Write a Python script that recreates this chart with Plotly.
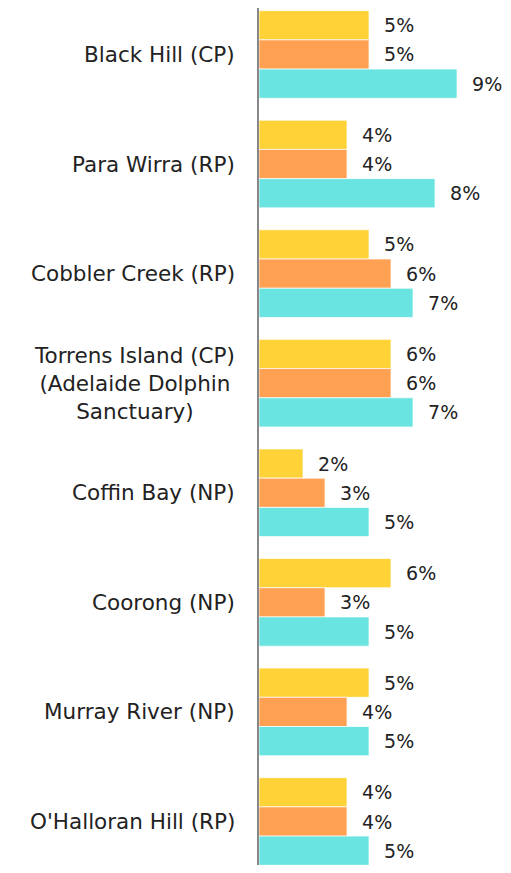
import plotly.graph_objects as go

# Categories, top to bottom
parks = [
    "Black Hill (CP)",
    "Para Wirra (RP)",
    "Cobbler Creek (RP)",
    "Torrens Island (CP)<br>(Adelaide Dolphin<br>Sanctuary)",
    "Coffin Bay (NP)",
    "Coorong (NP)",
    "Murray River (NP)",
    "O'Halloran Hill (RP)",
]

# Three series (percent)
series_a = [5, 4, 5, 6, 2, 6, 5, 4]
series_b = [5, 4, 6, 6, 3, 3, 4, 4]
series_c = [9, 8, 7, 7, 5, 5, 5, 5]

colors = ["#FFD237", "#FFA052", "#69E4E0"]
font_family = "'DejaVu Sans', sans-serif"

fig = go.Figure()
for vals, col in zip([series_a, series_b, series_c], colors):
    fig.add_trace(go.Bar(
        y=parks,
        x=vals,
        orientation="h",
        marker=dict(color=col, line=dict(color="rgba(255,255,255,0.7)", width=1)),
        text=[f"\u00a0\u00a0{v}%" for v in vals],
        textposition="outside",
        constraintext="none",
        textfont=dict(size=19, color="#222222", family=font_family),
        cliponaxis=False,
        hoverinfo="skip",
    ))

# category labels, centred lines, right-anchored next to the axis
for p in parks:
    fig.add_annotation(
        x=0, xref="paper", xanchor="right", xshift=-22,
        y=p, yref="y", yanchor="middle",
        text=p, align="center", showarrow=False,
        font=dict(size=21.5, color="#222222", family=font_family),
    )

# the page body adds an 8px margin; keep the figure inside the window
fig.update_layout(
    width=495,
    height=857,
    margin=dict(l=251, r=0, t=0, b=0),
    barmode="group",
    bargap=0.2,
    bargroupgap=0,
    showlegend=False,
    plot_bgcolor="white",
    paper_bgcolor="white",
    xaxis=dict(range=[0, 11.09], visible=False),
    yaxis=dict(
        range=[7.397, -0.424],
        showticklabels=False,
        showgrid=False,
        showline=True,
        linecolor="#888888",
        linewidth=1.5,
        ticks="",
    ),
)

fig.write_html("out.html")
